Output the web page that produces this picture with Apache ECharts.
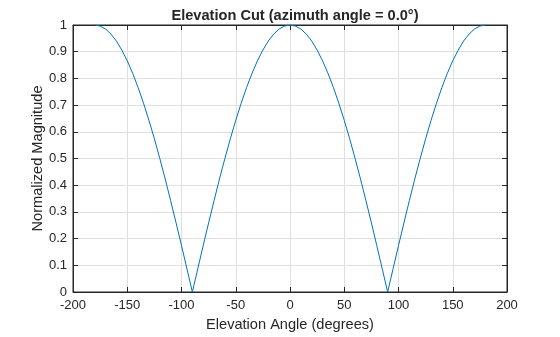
<!DOCTYPE html>
<html>
<head>
<meta charset="utf-8">
<script src="https://cdn.jsdelivr.net/npm/echarts@6/dist/echarts.min.js"></script>
<style>
  html, body { margin: 0; padding: 0; background: #fff; }
  #chart { width: 560px; height: 337px; }
</style>
</head>
<body>
<div id="chart"></div>
<script>
// Elevation angles (degrees), sampled every 5 degrees
const elevation = [
  -180, -175, -170, -165, -160, -155, -150, -145, -140, -135, -130, -125, -120,
  -115, -110, -105, -100, -95, -90, -85, -80, -75, -70, -65, -60, -55, -50, -45,
  -40, -35, -30, -25, -20, -15, -10, -5, 0, 5, 10, 15, 20, 25, 30, 35, 40, 45,
  50, 55, 60, 65, 70, 75, 80, 85, 90, 95, 100, 105, 110, 115, 120, 125, 130, 135,
  140, 145, 150, 155, 160, 165, 170, 175, 180
];

// Normalized magnitude of the pattern at each elevation angle
const magnitude = [
  1.000, 0.996, 0.985, 0.966, 0.940, 0.906, 0.866, 0.819, 0.766, 0.707, 0.643, 0.574, 0.500,
  0.423, 0.342, 0.259, 0.174, 0.087, 0.000, 0.087, 0.174, 0.259, 0.342, 0.423, 0.500, 0.574, 0.643, 0.707,
  0.766, 0.819, 0.866, 0.906, 0.940, 0.966, 0.985, 0.996, 1.000, 0.996, 0.985, 0.966, 0.940, 0.906, 0.866, 0.819, 0.766, 0.707,
  0.643, 0.574, 0.500, 0.423, 0.342, 0.259, 0.174, 0.087, 0.000, 0.087, 0.174, 0.259, 0.342, 0.423, 0.500, 0.574, 0.643, 0.707,
  0.766, 0.819, 0.866, 0.906, 0.940, 0.966, 0.985, 0.996, 1.000
];

const xTicks = [-200, -150, -100, -50, 0, 50, 100, 150, 200];
const yTicks = [0, 0.1, 0.2, 0.3, 0.4, 0.5, 0.6, 0.7, 0.8, 0.9, 1];

const titleText = 'Elevation Cut (azimuth angle = 0.0°)';
const xLabel = 'Elevation Angle (degrees)';
const yLabel = 'Normalized Magnitude';

const ink = '#262626';
const gridColor = '#dfdfdf';
const font = 'Liberation Sans, Arial, Helvetica, sans-serif';

const xMin = xTicks[0], xMax = xTicks[xTicks.length - 1];
const yMin = yTicks[0], yMax = yTicks[yTicks.length - 1];

// Bare mirror axes on the top and right edges carry the inward ticks of the box
const mirrorX = {
  type: 'value', position: 'top', min: xMin, max: xMax, interval: 50,
  axisLine: { show: true, onZero: false, lineStyle: { color: ink, width: 1 } },
  axisTick: { show: true, inside: true, length: 5, lineStyle: { color: ink } },
  axisLabel: { show: false }, splitLine: { show: false }
};
const mirrorY = {
  type: 'value', position: 'right', min: yMin, max: yMax, interval: 0.1,
  axisLine: { show: true, onZero: false, lineStyle: { color: ink, width: 1 } },
  axisTick: { show: true, inside: true, length: 5, lineStyle: { color: ink } },
  axisLabel: { show: false }, splitLine: { show: false }
};

const chart = echarts.init(document.getElementById('chart'), null, { renderer: 'canvas' });

chart.setOption({
  animation: false,
  backgroundColor: '#ffffff',
  title: {
    text: titleText,
    left: 290,
    textAlign: 'center',
    top: 3,
    textStyle: { fontFamily: font, fontSize: 14.6, fontWeight: 'bold', color: ink }
  },
  grid: {
    left: 73, right: 53, top: 25, bottom: 41,
    show: true, borderColor: ink, borderWidth: 1, backgroundColor: '#ffffff'
  },
  xAxis: [{
    type: 'value', position: 'bottom',
    min: xMin, max: xMax, interval: 50,
    name: xLabel, nameLocation: 'middle', nameGap: 25, nameMoveOverlap: false,
    nameTextStyle: { fontFamily: font, fontSize: 14.6, color: ink },
    axisLine: { show: true, onZero: false, lineStyle: { color: ink, width: 1 } },
    axisTick: { show: true, inside: true, length: 5, lineStyle: { color: ink } },
    axisLabel: { fontFamily: font, fontSize: 13, color: ink, margin: 7 },
    splitLine: { show: true, lineStyle: { color: gridColor, width: 1 } }
  }, mirrorX],
  yAxis: [{
    type: 'value', position: 'left',
    min: yMin, max: yMax, interval: 0.1,
    name: yLabel, nameLocation: 'middle', nameGap: 28, nameRotate: 90, nameMoveOverlap: false,
    nameTextStyle: { fontFamily: font, fontSize: 14.6, color: ink },
    axisLine: { show: true, onZero: false, lineStyle: { color: ink, width: 1 } },
    axisTick: { show: true, inside: true, length: 5, lineStyle: { color: ink } },
    axisLabel: {
      fontFamily: font, fontSize: 13, color: ink, margin: 6,
      formatter: v => String(Math.round(v * 10) / 10)
    },
    splitLine: { show: true, lineStyle: { color: gridColor, width: 1 } }
  }, mirrorY],
  series: [{
    type: 'line',
    xAxisIndex: 0, yAxisIndex: 0,
    data: elevation.map((e, i) => [e, magnitude[i]]),
    showSymbol: false,
    smooth: false,
    lineStyle: { color: '#0072BD', width: 1 },
    itemStyle: { color: '#0072BD' }
  }]
});
</script>
</body>
</html>
